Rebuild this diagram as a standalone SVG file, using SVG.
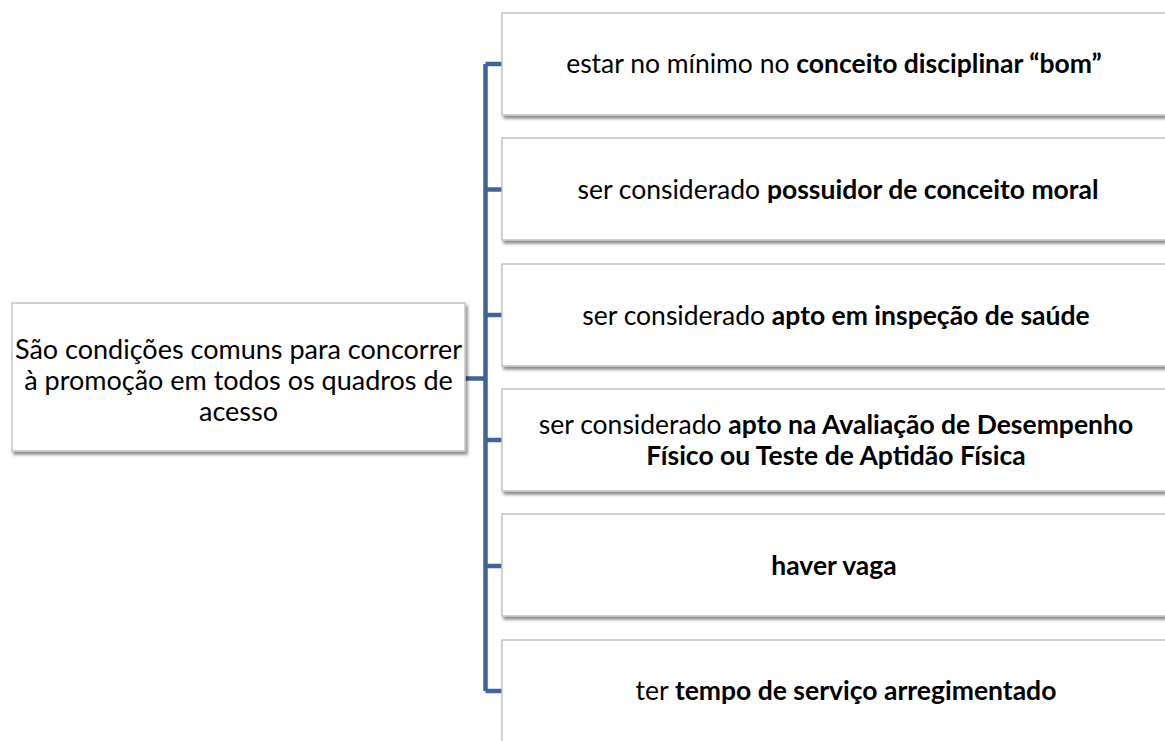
<svg xmlns="http://www.w3.org/2000/svg" width="1165" height="741" viewBox="0 0 1165 741">
<defs>
<filter id="sh" x="-5%" y="-10%" width="115%" height="130%">
<feDropShadow dx="2" dy="3" stdDeviation="1.8" flood-color="#000" flood-opacity="0.45"/>
</filter>
<style>
.box{fill:#fff;stroke:#c3c3c3;stroke-width:1.5;filter:url(#sh)}
.t{font-family:Lato,"Open Sans","Liberation Sans",sans-serif;font-size:26.5px;fill:#000;text-anchor:middle}
.l{font-size:27px}
.b{font-weight:bold}
.c{fill:none;stroke:#3f6596;stroke-width:4.5}
</style>
</defs>
<rect width="1165" height="741" fill="#fff"/>
<g id="connectors">
<path class="c" d="M465 378.5H485.5M485.5 64V691M485.5 64H502M485.5 189.5H502M485.5 315H502M485.5 440H502M485.5 566H502M485.5 691H502"/>
</g>
<g id="root">
<rect class="box" x="12" y="303" width="453" height="148"/>
<text class="t l" x="238.5" y="359">São condições comuns para concorrer</text>
<text class="t l" x="238.5" y="390">à promoção em todos os quadros de</text>
<text class="t l" x="238.5" y="421">acesso</text>
</g>
<g id="n1">
<rect class="box" x="502" y="13" width="668" height="102"/>
<text class="t" x="834" y="73">estar no mínimo no <tspan class="b">conceito disciplinar “bom”</tspan></text>
</g>
<g id="n2">
<rect class="box" x="502" y="138" width="668" height="102"/>
<text class="t" x="838" y="199">ser considerado <tspan class="b">possuidor de conceito moral</tspan></text>
</g>
<g id="n3">
<rect class="box" x="502" y="264" width="668" height="102"/>
<text class="t" x="836" y="325">ser considerado <tspan class="b">apto em inspeção de saúde</tspan></text>
</g>
<g id="n4">
<rect class="box" x="502" y="389" width="668" height="102"/>
<text class="t" x="836" y="434">ser considerado <tspan class="b">apto na Avaliação de Desempenho</tspan></text>
<text class="t b" x="836" y="465">Físico ou Teste de Aptidão Física</text>
</g>
<g id="n5">
<rect class="box" x="502" y="514" width="668" height="102"/>
<text class="t b" x="834" y="575">haver vaga</text>
</g>
<g id="n6">
<rect class="box" x="502" y="640" width="668" height="102"/>
<text class="t" x="846" y="700">ter <tspan class="b">tempo de serviço arregimentado</tspan></text>
</g>
</svg>
